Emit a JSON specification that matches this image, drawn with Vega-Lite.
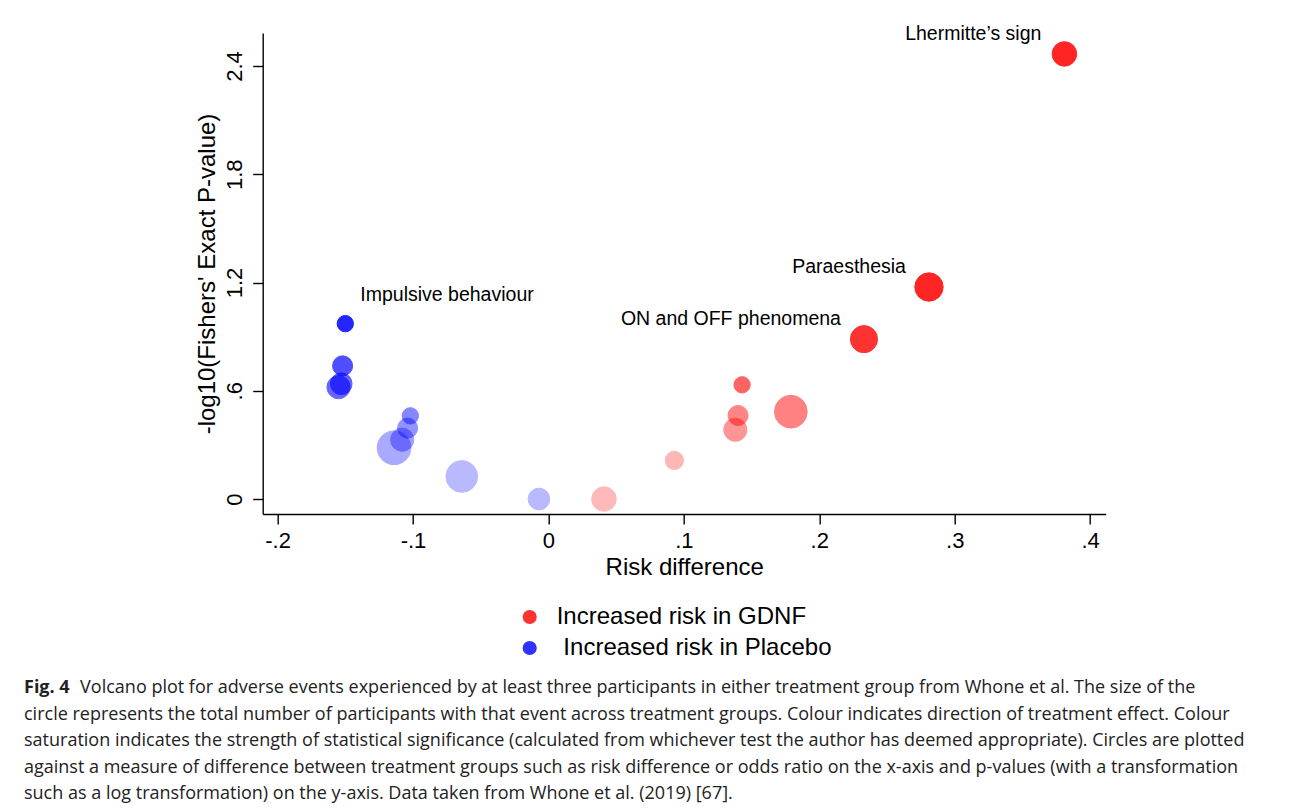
{
  "$schema": "https://vega.github.io/schema/vega-lite/v6.json",
  "width": 843,
  "height": 481,
  "autosize": {"type": "none"},
  "padding": {"left": 262.7, "top": 33, "right": 184.3, "bottom": 296},
  "background": "white",
  "config": {
    "font": "Liberation Sans",
    "view": {"stroke": null},
    "axis": {
      "grid": false,
      "domainColor": "black",
      "tickColor": "black",
      "labelColor": "black",
      "titleColor": "black",
      "labelFont": "Liberation Sans",
      "titleFont": "Liberation Sans",
      "titleFontWeight": "normal",
      "domainWidth": 1.4,
      "tickWidth": 1.4
    }
  },
  "data": {
    "values": [
      {"label": "Lhermitte’s sign", "rd": 0.381, "nlp": 2.467, "n": 9, "group": "Increased risk in GDNF"},
      {"label": "Paraesthesia", "rd": 0.281, "nlp": 1.175, "n": 12, "group": "Increased risk in GDNF"},
      {"label": "ON and OFF phenomena", "rd": 0.233, "nlp": 0.886, "n": 11, "group": "Increased risk in GDNF"},
      {"label": "", "rd": 0.143, "nlp": 0.633, "n": 4, "group": "Increased risk in GDNF"},
      {"label": "", "rd": 0.140, "nlp": 0.463, "n": 6, "group": "Increased risk in GDNF"},
      {"label": "", "rd": 0.138, "nlp": 0.384, "n": 8, "group": "Increased risk in GDNF"},
      {"label": "", "rd": 0.179, "nlp": 0.484, "n": 16, "group": "Increased risk in GDNF"},
      {"label": "", "rd": 0.093, "nlp": 0.214, "n": 5, "group": "Increased risk in GDNF"},
      {"label": "", "rd": 0.041, "nlp": 0.0, "n": 9, "group": "Increased risk in GDNF"},
      {"label": "", "rd": -0.007, "nlp": 0.0, "n": 7, "group": "Increased risk in Placebo"},
      {"label": "", "rd": -0.064, "nlp": 0.125, "n": 15, "group": "Increased risk in Placebo"},
      {"label": "", "rd": -0.102, "nlp": 0.461, "n": 4, "group": "Increased risk in Placebo"},
      {"label": "", "rd": -0.104, "nlp": 0.393, "n": 6, "group": "Increased risk in Placebo"},
      {"label": "", "rd": -0.108, "nlp": 0.329, "n": 8, "group": "Increased risk in Placebo"},
      {"label": "", "rd": -0.114, "nlp": 0.284, "n": 17, "group": "Increased risk in Placebo"},
      {"label": "", "rd": -0.152, "nlp": 0.738, "n": 6, "group": "Increased risk in Placebo"},
      {"label": "", "rd": -0.155, "nlp": 0.620, "n": 8, "group": "Increased risk in Placebo"},
      {"label": "", "rd": -0.153, "nlp": 0.639, "n": 7, "group": "Increased risk in Placebo"},
      {"label": "Impulsive behaviour", "rd": -0.150, "nlp": 0.972, "n": 4, "group": "Increased risk in Placebo"}
    ]
  },
  "title": {
    "text": "Fig. 4",
    "subtitle": [
      "\u200b\u00a0\u00a0\u00a0\u00a0\u00a0\u00a0\u00a0\u00a0\u00a0\u00a0\u00a0\u00a0Volcano plot for adverse events experienced by at least three participants in either treatment group from Whone et al. The size of the",
      "circle represents the total number of participants with that event across treatment groups. Colour indicates direction of treatment effect. Colour",
      "saturation indicates the strength of statistical significance (calculated from whichever test the author has deemed appropriate). Circles are plotted",
      "against a measure of difference between treatment groups such as risk difference or odds ratio on the x-axis and p-values (with a transformation",
      "such as a log transformation) on the y-axis. Data taken from Whone et al. (2019) [67]."
    ],
    "orient": "bottom",
    "anchor": "start",
    "frame": "group",
    "dx": -238.7,
    "offset": 19,
    "font": "Open Sans",
    "fontSize": 18,
    "fontWeight": "bold",
    "color": "#222222",
    "subtitleFont": "Open Sans",
    "subtitleFontSize": 18,
    "subtitleColor": "#222222",
    "subtitleLineHeight": 26.5,
    "subtitlePadding": -18
  },
  "encoding": {
    "x": {
      "field": "rd",
      "type": "quantitative",
      "scale": {"domain": [-0.211, 0.4115], "nice": false, "zero": false},
      "axis": {
        "values": [-0.2, -0.1, 0, 0.1, 0.2, 0.3, 0.4],
        "labelExpr": "datum.value == 0 ? '0' : (datum.value < 0 ? '-' : '') + replace(format(abs(datum.value), '.1f'), '0.', '.')",
        "title": "Risk difference",
        "titleFontSize": 24,
        "labelFontSize": 22,
        "tickSize": 10,
        "labelPadding": 6,
        "titlePadding": 4,
        "labelFlush": false,
        "labelOverlap": false
      }
    },
    "y": {
      "field": "nlp",
      "type": "quantitative",
      "scale": {"domain": [-0.083, 2.583], "nice": false, "zero": false},
      "axis": {
        "values": [0, 0.6, 1.2, 1.8, 2.4],
        "labelExpr": "datum.value == 0 ? '0' : replace(format(datum.value, '.1f'), '0.', '.')",
        "title": "-log10(Fishers' Exact P-value)",
        "titleFontSize": 24,
        "labelFontSize": 22,
        "labelAngle": 270,
        "labelAlign": "center",
        "labelBaseline": "bottom",
        "tickSize": 10,
        "labelPadding": 6,
        "titlePadding": 4,
        "labelFlush": false,
        "labelOverlap": false
      }
    }
  },
  "layer": [
    {
      "mark": {"type": "circle", "strokeWidth": 1},
      "encoding": {
        "size": {"field": "n", "type": "quantitative", "scale": {"type": "linear", "zero": true, "domain": [0, 20], "range": [0, 1341]}, "legend": null},
        "opacity": {"field": "nlp", "type": "quantitative", "scale": {"domain": [0.2, 0.95], "range": [0.27, 0.85], "clamp": true}, "legend": null},
        "color": {
          "field": "group",
          "type": "nominal",
          "scale": {"domain": ["Increased risk in GDNF", "Increased risk in Placebo"], "range": ["#ff0000", "#0000ff"]},
          "legend": {
            "title": null,
            "orient": "none",
            "legendX": 255,
            "legendY": 572,
            "direction": "vertical",
            "symbolType": "circle",
            "symbolSize": 160,
            "symbolOpacity": 0.8,
            "labelFontSize": 24,
            "labelFont": "Liberation Sans",
            "labelColor": "black",
            "labelOffset": 15,
            "rowPadding": 7,
            "padding": 0,
            "labelLimit": 500,
            "labelExpr": "datum.label == 'Increased risk in Placebo' ? '\u200b\u00a0' + datum.label : datum.label"
          }
        },
        "stroke": {
          "field": "group",
          "type": "nominal",
          "scale": {"domain": ["Increased risk in GDNF", "Increased risk in Placebo"], "range": ["#ff0000", "#0000ff"]},
          "legend": null
        }
      }
    },
    {
      "transform": [{"filter": "datum.label != '' && datum.rd > 0"}],
      "mark": {"type": "text", "align": "right", "baseline": "middle", "dx": -23, "dy": -20, "fontSize": 19.5, "font": "Liberation Sans", "color": "black"},
      "encoding": {"text": {"field": "label"}}
    },
    {
      "transform": [{"filter": "datum.label != '' && datum.rd < 0"}],
      "mark": {"type": "text", "align": "left", "baseline": "middle", "dx": 15, "dy": -29, "fontSize": 19.5, "font": "Liberation Sans", "color": "black"},
      "encoding": {"text": {"field": "label"}}
    }
  ]
}
